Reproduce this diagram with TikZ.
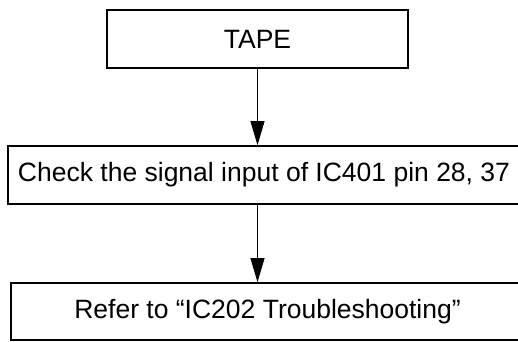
\documentclass[tikz,border=0pt]{standalone}
\usepackage{fontspec}
\setmainfont{Liberation Sans}
\usepackage{tikz}
\usetikzlibrary{arrows.meta,positioning}
\tikzstyle{arrow} = [line width=0.9pt,-{Triangle[length=24pt,width=14pt]}]
\tikzstyle{stepbox} = [rectangle, draw=black, line width=1.7pt, text centered, minimum height=58pt, inner sep=0pt, font=\fontsize{26.5}{30}\selectfont]

\begin{document}
\begin{tikzpicture}[x=1pt,y=1pt]
\useasboundingbox (0,0) rectangle (518,341);
\clip (0,0) rectangle (518,341);

% Boxes
\node[stepbox, minimum width=301pt] (tape) at (257.5,302) {TAPE};
\node[stepbox, minimum width=512pt] (check) at (264,166) {Check the signal input of IC401 pin 28, 37};
\node[stepbox, minimum width=513pt, minimum height=57pt] (refer) at (267.5,29.5) {Refer to “IC202 Troubleshooting”};

% Arrows
\draw[arrow] (tape.south) -- (tape.south |- check.north);
\draw[arrow] (tape.south |- check.south) -- (tape.south |- refer.north);
\end{tikzpicture}
\end{document}
